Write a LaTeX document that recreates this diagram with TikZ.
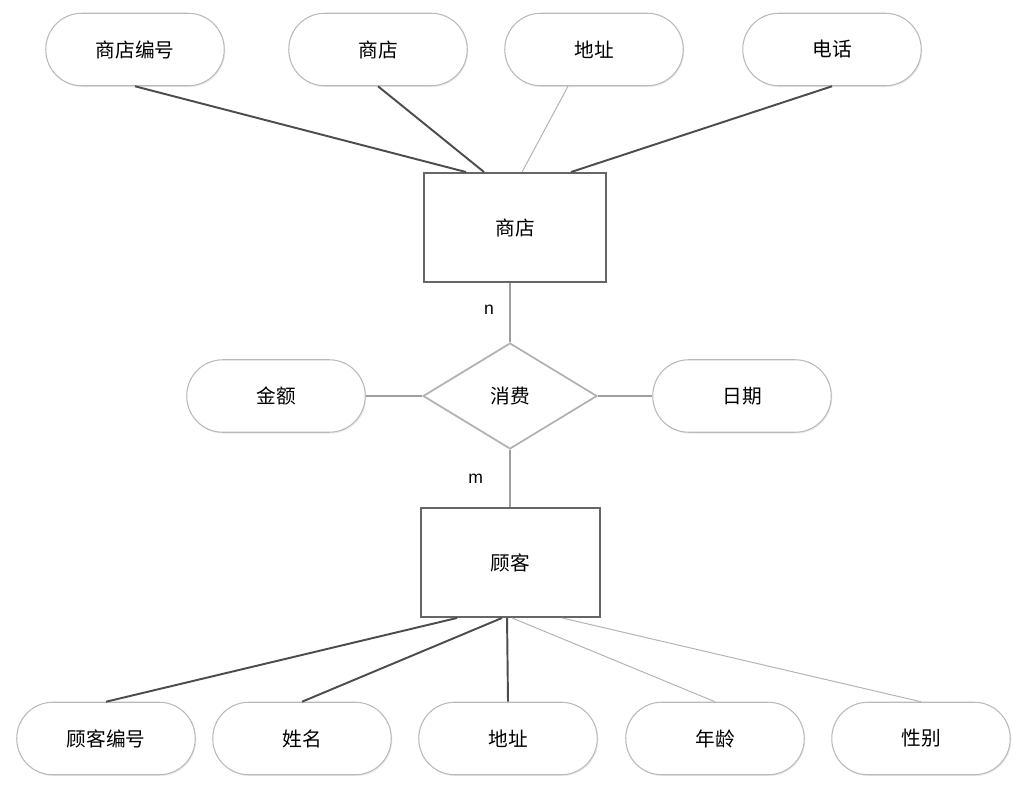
\documentclass[tikz,border=0pt]{standalone}
\usepackage{fontspec}
\setmainfont{Noto Sans CJK SC}
\newfontfamily\latinfont{Liberation Sans}
\usetikzlibrary{shapes.geometric,shadows}

\begin{document}
\begin{tikzpicture}[x=0.02cm,y=-0.02cm,
    attr/.style={draw=gray!55, line width=0.6pt, fill=white, rounded corners=0.72cm,
        minimum width=3.57cm, minimum height=1.45cm,
        drop shadow={opacity=0.15, shadow xshift=0.6pt, shadow yshift=-0.8pt},
        font=\fontsize{11.2}{12}\selectfont},
    entity/.style={draw=black!60, line width=1.1pt, fill=white, minimum height=2.18cm,
        font=\fontsize{11.2}{12}\selectfont},
    rel/.style={diamond, draw=gray!60, line width=1pt, fill=white, inner sep=0pt,
        minimum width=3.48cm, minimum height=2.12cm, font=\fontsize{11.2}{12}\selectfont},
    dark/.style={draw=black!70, line width=1.1pt},
    light/.style={draw=gray!60, line width=0.55pt},
    mid/.style={draw=gray!75, line width=1.2pt},
    card/.style={font=\latinfont\fontsize{10}{12}\selectfont, inner sep=0pt}]

    \useasboundingbox (0,0) rectangle (1034,800);

    \node[entity, minimum width=3.64cm] (store) at (515,227.5) {商店};
    \node[rel] (buy) at (510,396) {消费};
    \node[entity, minimum width=3.58cm] (cust) at (510.5,562.5) {顾客};

\foreach \n\x\t in {sid/135/商店编号, sname/378/商店, saddr/594/地址, stel/832/电话}{
    \node[attr] (\n) at (\x,49.5) {\t};
}

\foreach \n\x\t in {cid/106/顾客编号, cname/302/姓名, caddr/508/地址, cage/715/年龄, csex/921/性别}{
    \node[attr] (\n) at (\x,738.5) {\t};
}

    \node[attr] (amount) at (276,396) {金额};
    \node[attr] (date) at (742,396) {日期};

    \draw[dark] (sid.south) -- ([xshift=0.86cm]store.north west);
    \draw[dark] (sname.south) -- ([xshift=1.22cm]store.north west);
    \draw[light] ([xshift=-0.52cm]saddr.south) -- ([xshift=1.98cm]store.north west);
    \draw[dark] (stel.south) -- ([xshift=2.96cm]store.north west);

    \draw[mid] (buy.north |- store.south) -- node[card, pos=0.45, left=0.3cm] {n} (buy.north);
    \draw[mid] (buy.south) -- node[card, pos=0.5, left=0.52cm] {m} (buy.south |- cust.north);
    \draw[mid] (amount.east) -- (buy.west);
    \draw[mid] (buy.east) -- (date.west);

    \draw[dark] (cid.north) -- ([xshift=0.74cm]cust.south west);
    \draw[dark] (cname.north) -- ([xshift=1.64cm]cust.south west);
    \draw[dark] (caddr.north) -- ([xshift=1.74cm]cust.south west);
    \draw[light] (cage.north) -- ([xshift=1.84cm]cust.south west);
    \draw[light] (csex.north) -- ([xshift=2.84cm]cust.south west);
\end{tikzpicture}
\end{document}
